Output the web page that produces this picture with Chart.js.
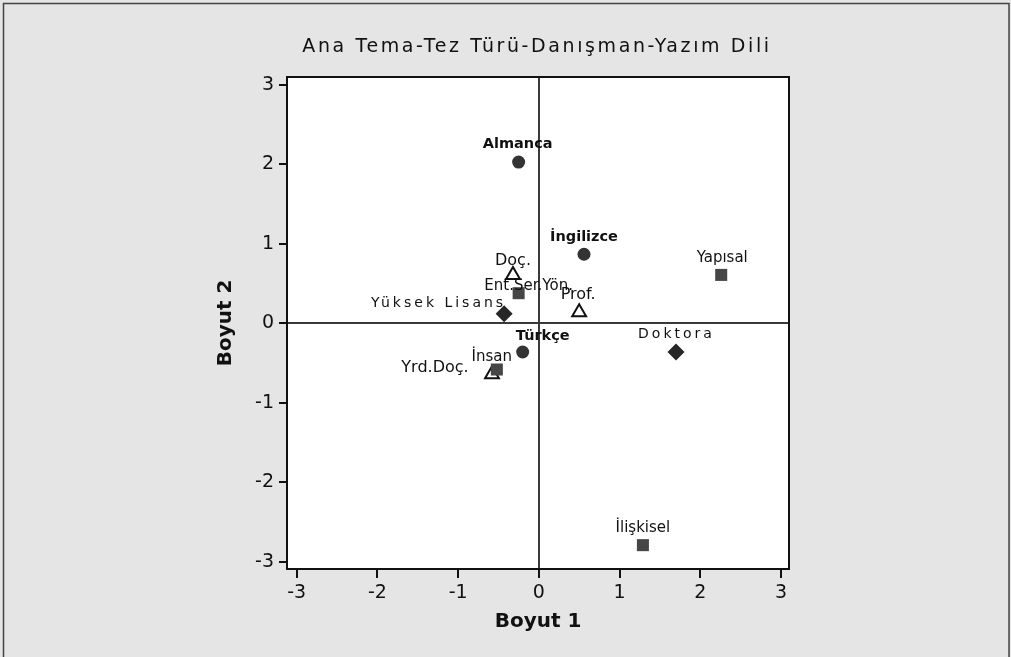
<!DOCTYPE html>
<html>
<head>
<meta charset="utf-8">
<script src="https://cdn.jsdelivr.net/npm/chart.js@4"></script>
<style>
html, body { margin: 0; padding: 0; background: #e5e5e5; }
canvas { display: block; }
</style>
</head>
<body>
<canvas id="myChart" width="1011" height="657"></canvas>
<script>
// Yazım Dili (daireler)
const yazimLabels = ['Almanca', 'İngilizce', 'Türkçe'];
const yazimX = [-0.25, 0.56, -0.20];
const yazimY = [2.03, 0.87, -0.36];

// Ana Tema (kareler)
const temaLabels = ['Ent.Ser.Yön.', 'Yapısal', 'İnsan', 'İlişkisel'];
const temaX = [-0.25, 2.26, -0.52, 1.29];
const temaY = [0.38, 0.61, -0.58, -2.79];

// Tez Türü (baklava)
const tezLabels = ['Yüksek Lisans', 'Doktora'];
const tezX = [-0.43, 1.70];
const tezY = [0.12, -0.36];

// Danışman (üçgenler)
const danismanLabels = ['Doç.', 'Prof.', 'Yrd.Doç.'];
const danismanX = [-0.32, 0.50, -0.58];
const danismanY = [0.61, 0.14, -0.64];

const tickValues = [-3, -2, -1, 0, 1, 2, 3];

// etiketlerin noktaya göre kayması (px)
const yazimNudge = [[-1, -18], [0, -17], [20, -16]];
const temaNudge = [[10, -7], [1, -17], [-5, -12], [0, -17]];
const tezNudge = [[-67, -11], [-1, -18]];
const danismanNudge = [[0, -14], [-1, -17], [-57, -6]];

const toPoints = (xs, ys) => xs.map((x, i) => ({x: x, y: ys[i]}));

const data = {
    datasets: [{
        label: 'Yazım Dili',
        data: toPoints(yazimX, yazimY),
        names: yazimLabels,
        nudge: yazimNudge,
        labelFont: 'bold 14.5px "DejaVu Sans"',
        spacing: 0,
        pointStyle: 'circle',
        pointRadius: 6.5,
        backgroundColor: '#333333',
        borderColor: '#333333',
        borderWidth: 0,
        order: 1
    }, {
        label: 'Ana Tema',
        data: toPoints(temaX, temaY),
        names: temaLabels,
        nudge: temaNudge,
        labelFont: '15px "DejaVu Sans"',
        spacing: 0,
        pointStyle: 'rect',
        pointRadius: 8.5,
        backgroundColor: '#464646',
        borderColor: '#464646',
        borderWidth: 0,
        order: 2
    }, {
        label: 'Tez Türü',
        data: toPoints(tezX, tezY),
        names: tezLabels,
        nudge: tezNudge,
        labelFont: '14px "DejaVu Sans"',
        spacing: 3,
        pointStyle: 'rectRot',
        pointRadius: 8.5,
        backgroundColor: '#262626',
        borderColor: '#262626',
        borderWidth: 0,
        order: 3
    }, {
        label: 'Danışman',
        data: toPoints(danismanX, danismanY),
        names: danismanLabels,
        nudge: danismanNudge,
        labelFont: '16px "DejaVu Sans"',
        spacing: 0,
        pointStyle: 'triangle',
        pointRadius: 8,
        backgroundColor: '#ffffff',
        borderColor: '#111111',
        borderWidth: 2,
        order: 4
    }]
};

const framePlugin = {
    id: 'frame',
    beforeDraw(chart) {
        const {ctx, chartArea: a} = chart;
        ctx.save();
        ctx.fillStyle = '#e5e5e5';
        ctx.fillRect(0, 0, chart.width, chart.height);
        ctx.strokeStyle = '#444';
        ctx.lineWidth = 1.5;
        ctx.beginPath();
        ctx.moveTo(3.5, chart.height);
        ctx.lineTo(3.5, 3.5);
        ctx.lineTo(chart.width - 2, 3.5);
        ctx.lineTo(chart.width - 2, chart.height);
        ctx.stroke();
        ctx.fillStyle = '#ffffff';
        ctx.fillRect(a.left, a.top, a.right - a.left, a.bottom - a.top);
        ctx.restore();
    },
    afterDraw(chart) {
        const {ctx, chartArea: a} = chart;
        ctx.save();
        // üst ve sağ çerçeve
        ctx.strokeStyle = '#111';
        ctx.lineWidth = 2;
        ctx.strokeRect(a.left, a.top, a.right - a.left, a.bottom - a.top);

        // başlık
        ctx.fillStyle = '#111';
        ctx.font = '19px "DejaVu Sans"';
        ctx.letterSpacing = '2.6px';
        ctx.textAlign = 'center';
        ctx.textBaseline = 'middle';
        ctx.fillText('Ana Tema-Tez Türü-Danışman-Yazım Dili', (a.left + a.right) / 2 - 1, 47);

        // nokta etiketleri
        chart.data.datasets.forEach((ds, i) => {
            const meta = chart.getDatasetMeta(i);
            ctx.font = ds.labelFont;
            ctx.letterSpacing = ds.spacing + 'px';
            meta.data.forEach((pt, j) => {
                const n = ds.nudge[j];
                ctx.fillText(ds.names[j], pt.x + n[0] + ds.spacing / 2, pt.y + n[1]);
            });
        });
        ctx.restore();
    }
};

const gridColor = (c) => (c.tick && c.tick.value === 0) ? '#3a3a3a' : 'rgba(0,0,0,0)';
const tickFont = {family: 'DejaVu Sans', size: 19};
const titleFont = {family: 'DejaVu Sans', size: 20, weight: 'bold'};

const config = {
    type: 'scatter',
    data: data,
    plugins: [framePlugin],
    options: {
        responsive: false,
        animation: false,
        events: [],
        devicePixelRatio: 1,
        layout: {padding: {left: 214, top: 77, right: 222, bottom: 23}},
        plugins: {legend: {display: false}, tooltip: {enabled: false}},
        scales: {
            x: {
                type: 'linear',
                min: -3.12,
                max: 3.10,
                afterBuildTicks: (s) => { s.ticks = tickValues.map(v => ({value: v})); },
                afterFit: (s) => { s.height = 65; },
                ticks: {font: tickFont, color: '#111', padding: 4, maxRotation: 0},
                grid: {color: gridColor, lineWidth: 2, tickColor: '#111', tickLength: 9, tickWidth: 2},
                border: {display: true, color: '#111', width: 2},
                title: {display: true, text: 'Boyut 1', font: titleFont, color: '#111', padding: 0}
            },
            y: {
                type: 'linear',
                min: -3.09,
                max: 3.10,
                afterBuildTicks: (s) => { s.ticks = tickValues.map(v => ({value: v})); },
                afterFit: (s) => { s.width = 73; },
                ticks: {font: tickFont, color: '#111', padding: 5},
                grid: {color: gridColor, lineWidth: 2, tickColor: '#111', tickLength: 8, tickWidth: 2},
                border: {display: true, color: '#111', width: 2},
                title: {display: true, text: 'Boyut 2', font: titleFont, color: '#111', padding: 0}
            }
        }
    }
};

const myChart = new Chart(document.getElementById('myChart'), config);
</script>
</body>
</html>
